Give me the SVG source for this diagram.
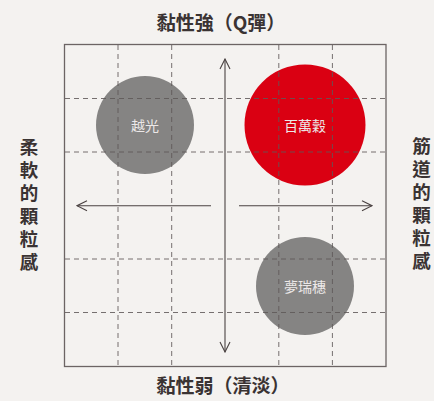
<svg xmlns="http://www.w3.org/2000/svg" width="434" height="401" viewBox="0 0 434 401">
<defs>
<style>
.bg{fill:#f4f2f0}
.frame{fill:none;stroke:#6c6464;stroke-width:1.3}
.dash{stroke:#5e5858;stroke-width:1;stroke-dasharray:5 4;fill:none;opacity:0.85}
.axis{stroke:#4a4242;stroke-width:1.1;fill:none}
.title{font-family:"Noto Sans CJK TC","Noto Sans CJK SC",sans-serif;font-weight:bold;font-size:19px;fill:#3a3333;text-anchor:middle}
.side{font-family:"Noto Sans CJK TC","Noto Sans CJK SC",sans-serif;font-weight:bold;font-size:18.5px;fill:#3a3333;writing-mode:vertical-rl;letter-spacing:4.5px}
.lbl{font-family:"Noto Sans CJK TC","Noto Sans CJK SC",sans-serif;font-size:14px;fill:#ece8e8;text-anchor:middle;dominant-baseline:central}
.gray{fill:#858483}
.red{fill:#da0012}
</style>
<marker id="chev" viewBox="0 0 12 12" refX="11" refY="6" markerWidth="12" markerHeight="12" markerUnits="userSpaceOnUse" orient="auto">
<path d="M1,1 L11,6 L1,11" fill="none" stroke="#4a4242" stroke-width="1.1"/>
</marker>
</defs>
<rect class="bg" x="0" y="0" width="434" height="401"/>
<g id="circles">
<circle id="koshihikari-shape" class="gray" cx="145" cy="125" r="49"/>
<circle id="hyakumankoku-shape" class="red" cx="305" cy="125" r="60.5"/>
<circle id="yumemizuho-shape" class="gray" cx="305" cy="286" r="49"/>
</g>
<g id="grid">
<rect class="frame" x="64.5" y="44.5" width="321.5" height="322"/>
<path class="dash" d="M118,45 V366 M171.7,45 V366 M278.8,45 V366 M332.4,45 V366"/>
<path class="dash" d="M65,98.5 H386 M65,152 H386 M65,259 H386 M65,312.5 H386"/>
</g>
<g id="nodes">
<g id="koshihikari"><text class="lbl" x="145" y="125">越光</text></g>
<g id="hyakumankoku"><text class="lbl" x="305" y="125">百萬穀</text></g>
<g id="yumemizuho"><text class="lbl" x="305" y="286">夢瑞穗</text></g>
</g>
<g id="connectors">
<line class="axis" x1="225" y1="205" x2="225" y2="59" marker-end="url(#chev)"/>
<line class="axis" x1="225" y1="205" x2="225" y2="352" marker-end="url(#chev)"/>
<line class="axis" x1="211" y1="205.7" x2="77" y2="205.7" marker-end="url(#chev)"/>
<line class="axis" x1="239" y1="205.7" x2="372" y2="205.7" marker-end="url(#chev)"/>
</g>
<g id="labels">
<text class="title" x="221" y="30">黏性強（Q彈）</text>
<text class="title" x="223" y="393">黏性弱（清淡）</text>
<text class="side" x="29" y="138">柔軟的顆粒感</text>
<text class="side" x="421.5" y="137">筋道的顆粒感</text>
</g>
</svg>
